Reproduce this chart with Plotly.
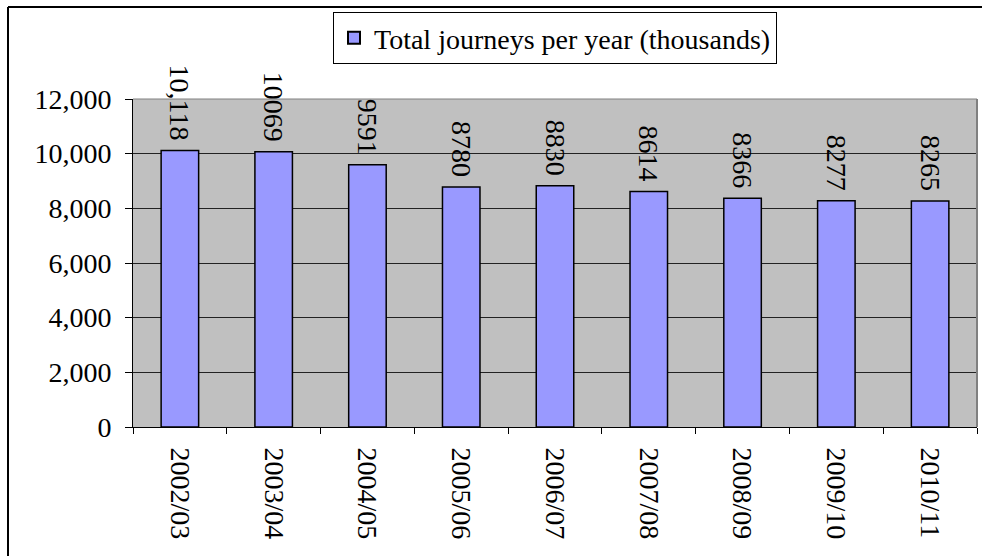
import plotly.graph_objects as go

# Annual journeys (thousands) by financial year
years = ["2002/03", "2003/04", "2004/05", "2005/06", "2006/07",
         "2007/08", "2008/09", "2009/10", "2010/11"]
journeys = [10118, 10069, 9591, 8780, 8830, 8614, 8366, 8277, 8265]
value_labels = ["10,118", "10069", "9591", "8780", "8830",
                "8614", "8366", "8277", "8265"]
series_name = "Total journeys per year (thousands)"
y_ticks = [0, 2000, 4000, 6000, 8000, 10000, 12000]

FONT = "Liberation Serif"
FS = 28

fig = go.Figure()
fig.add_trace(go.Bar(
    x=years,
    y=journeys,
    name=series_name,
    # trailing space keeps the rotated label a little off the bar top
    text=[v + " " for v in value_labels],
    textposition="outside",
    textangle=90,
    constraintext="none",
    cliponaxis=False,
    textfont=dict(family=FONT, size=FS, color="black"),
    marker=dict(color="#9999FF", line=dict(color="black", width=1.5)),
    showlegend=True,
))

# plot area geometry (pixels) used to place the outer frame
W, H = 982, 556
L, R, T, B = 133, 5, 99, 129
pw, ph = W - L - R, H - T - B

def px_x(x):
    return (x - L) / pw

def px_y(y):
    return (H - B - y) / ph

fig.update_layout(
    width=W, height=H,
    margin=dict(l=L, r=R, t=T, b=B),
    paper_bgcolor="white",
    plot_bgcolor="#C0C0C0",
    bargap=0.6,
    font=dict(family=FONT, size=FS, color="black"),
    showlegend=True,
    legend=dict(
        orientation="h",
        x=0.5, xanchor="center",
        y=px_y(12), yanchor="top",
        bgcolor="white",
        bordercolor="black", borderwidth=1,
        font=dict(family=FONT, size=FS, color="black"),
        itemsizing="constant",
        itemwidth=30,
    ),
    xaxis=dict(
        type="category",
        tickangle=90,
        tickson="boundaries",
        ticks="outside", ticklen=6, tickcolor="black", tickwidth=1,
        ticklabelstandoff=14,
        showline=True, linecolor="black", linewidth=1,
        showgrid=False,
        tickfont=dict(family=FONT, size=FS, color="black"),
    ),
    yaxis=dict(
        range=[0, 12000],
        tickvals=y_ticks,
        tickformat=",",
        ticks="outside", ticklen=7, tickcolor="black", tickwidth=1,
        ticklabelstandoff=8,
        showline=True, linecolor="black", linewidth=1,
        showgrid=True, gridcolor="#222222", gridwidth=1,
        zeroline=False,
        tickfont=dict(family=FONT, size=FS, color="black"),
    ),
    shapes=[
        # plot area border (top and right)
        dict(type="line", xref="paper", yref="paper", x0=0, x1=1, y0=1, y1=1,
             line=dict(color="#808080", width=1), layer="above"),
        dict(type="line", xref="paper", yref="paper", x0=1, x1=1, y0=0, y1=1,
             line=dict(color="#808080", width=2), layer="above"),
        # outer chart frame
        dict(type="line", xref="paper", yref="paper",
             x0=px_x(8), x1=px_x(990), y0=px_y(7), y1=px_y(7),
             line=dict(color="black", width=2)),
        dict(type="line", xref="paper", yref="paper",
             x0=px_x(8), x1=px_x(8), y0=px_y(7), y1=px_y(560),
             line=dict(color="black", width=2)),
    ],
)

fig.write_html("out.html")
